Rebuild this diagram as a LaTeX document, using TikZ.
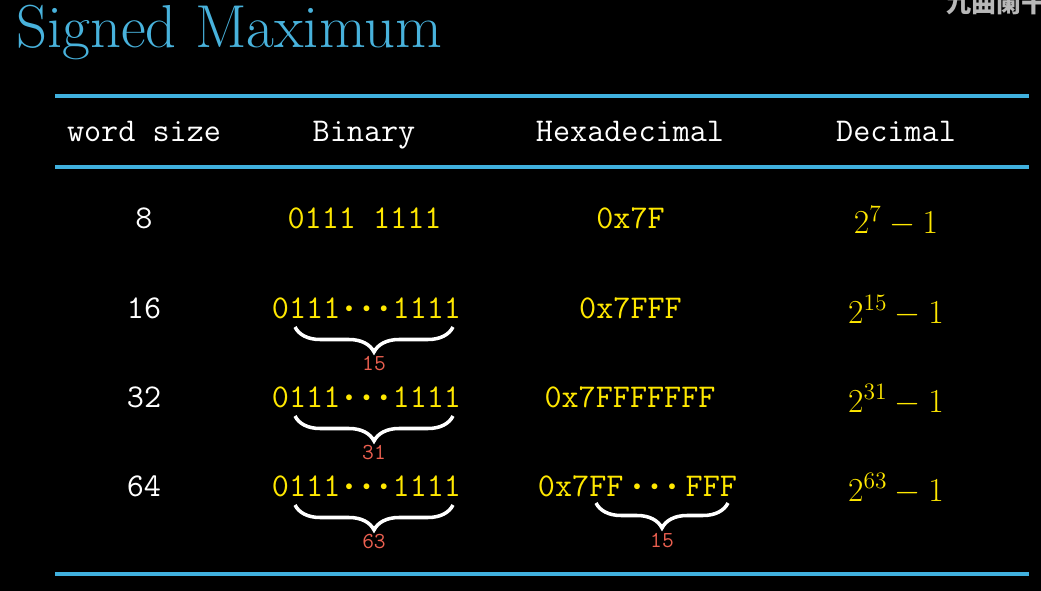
\RequirePackage{fix-cm}
\documentclass[tikz,border=0pt]{standalone}
\usepackage{fontspec}
\newfontfamily\cjk{Noto Sans CJK SC}
\usepackage{xcolor}
\usepackage{graphicx}
\usetikzlibrary{positioning,decorations.pathreplacing}

\definecolor{titleblue}{RGB}{72,178,220}
\definecolor{ruleblue}{RGB}{64,176,222}
\definecolor{valyellow}{RGB}{255,232,0}
\definecolor{cntred}{RGB}{236,96,80}
\newcommand{\bdot}{\makebox[0.525em]{\raisebox{3.4pt}{\scalebox{0.45}{$\bullet$}}}}

\begin{document}
\begin{tikzpicture}[x=0.02cm, y=-0.02cm,
    head/.style={text=white, inner sep=0, anchor=base, font=\fontsize{18.9}{22}\selectfont\ttfamily},
    val/.style={text=valyellow, inner sep=0, anchor=base, font=\fontsize{18.9}{22}\selectfont\ttfamily},
    dec/.style={text=valyellow, inner sep=0, anchor=base, font=\fontsize{19.1}{22}\selectfont},
    cnt/.style={text=cntred, inner sep=0, font=\fontsize{13}{15}\selectfont\ttfamily},
    brc/.style={white, line width=2pt, decorate, decoration={brace, mirror, amplitude=0.5cm}},
    rule/.style={ruleblue, line width=2pt}]
    % Background
    \fill[black] (0,0) rectangle (1041,591);
    \useasboundingbox (0,0) rectangle (1041,591);
    \clip (0,0) rectangle (1041,591);

    % Title and watermark
    \node[text=titleblue, inner sep=0, anchor=base west, font=\fontsize{34.5}{40}\selectfont] (title) at (16,47.5) {Signed Maximum};
    \node[text=black!28!white, inner sep=0, anchor=base west, font=\fontsize{14.2}{16}\selectfont\cjk\bfseries] (mark) at (946,13) {九曲阑干};

    % Rules
    \coordinate (r1l) at (55,96);  \coordinate (r1r) at (1029,96);
    \coordinate (r2l) at (55,167); \coordinate (r2r) at (1029,167);
    \coordinate (r3l) at (55,574); \coordinate (r3r) at (1029,574);
    \draw[rule] (r1l) -- (r1r);
    \draw[rule] (r2l) -- (r2r);
    \draw[rule] (r3l) -- (r3r);

    % Header
    \node[head] (hws)  at (144,142) {word size};
    \node[head] (hbin) at (364,142) {Binary};
    \node[head] (hhex) at (630,142) {Hexadecimal};
    \node[head] (hdec) at (896,142) {Decimal};

    % Word sizes
    \foreach \n/\y in {8/229, 16/318, 32/407, 64/496} {
        \node[head] (ws\n) at (144,\y) {\n};
    }

    % Binary
    \node[val] (bin8) at (364.5,229) {0111 1111};
    \foreach \n/\y in {16/318, 32/407, 64/496} {
        \node[val] (bin\n) at (366.5,\y) {0111\bdot\bdot\bdot1111};
    }

    % Hexadecimal
    \node[val] (hex8)  at (630.5,229) {0x7F};
    \node[val] (hex16) at (630.5,318) {0x7FFF};
    \node[val] (hex32) at (630,407) {0x7FFFFFFF};
    \node[val] (hex64) at (637.5,496) {0x7FF\hspace{0.15em}\bdot\bdot\bdot\hspace{0.15em}FFF};

    % Decimal
    \foreach \n/\e/\y in {8/7/234, 16/15/323, 32/31/412, 64/63/501} {
        \node[dec] (dec\n) at (896,\y) {$2^{\e}-1$};
    }

    % Braces
    \foreach \n/\y/\k in {16/327/15, 32/416/31, 64/505/63} {
        \coordinate (bl\n) at (295,\y);
        \coordinate (br\n) at (453,\y);
        \draw[brc] (bl\n) -- (br\n);
        \node[cnt] (cnt\n) at (374,\y+37) {\k};
    }
    \coordinate (hl) at (596,503);
    \coordinate (hr) at (728,503);
    \draw[brc] (hl) -- (hr);
    \node[cnt] (cnthex) at (662,541) {15};
\end{tikzpicture}
\end{document}
